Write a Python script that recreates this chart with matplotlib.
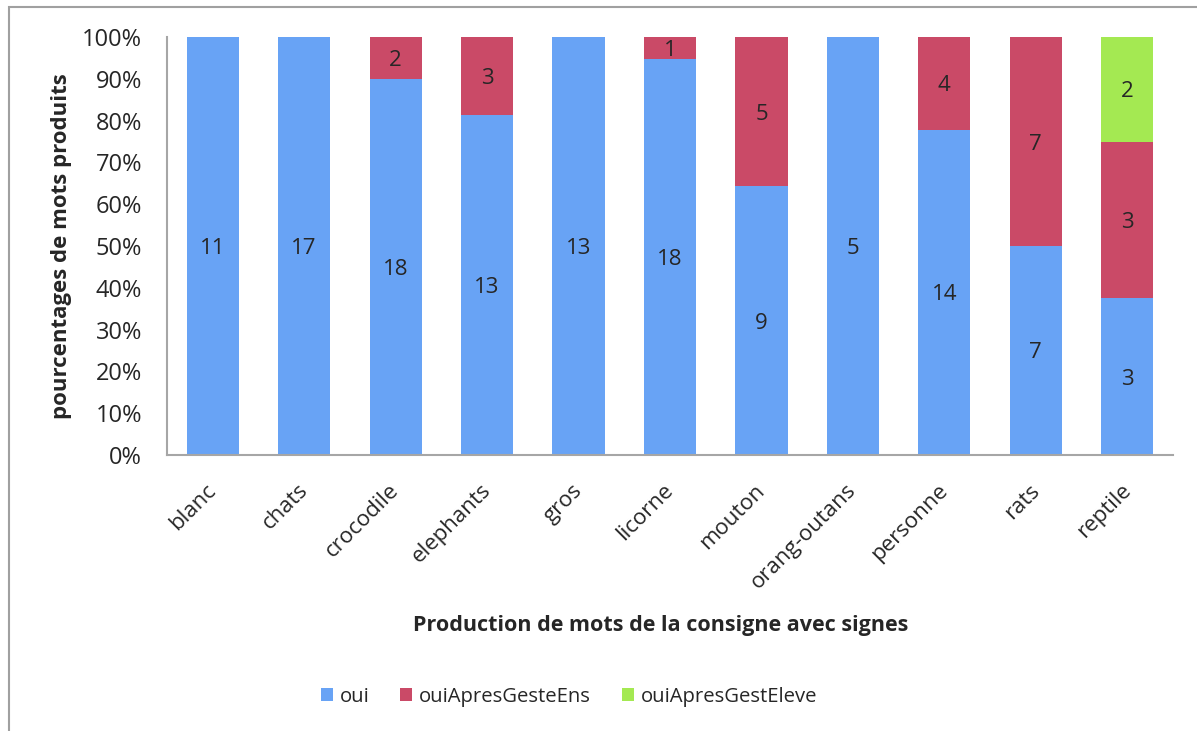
import matplotlib
matplotlib.use("Agg")
import matplotlib.pyplot as plt
import matplotlib.transforms as mtrans
import numpy as np
from matplotlib.patches import Rectangle

categories = ["blanc", "chats", "crocodile", "elephants", "gros", "licorne",
              "mouton", "orang-outans", "personne", "rats", "reptile"]
oui = [11, 17, 18, 13, 13, 18, 9, 5, 14, 7, 3]
oui_ens = [0, 0, 2, 3, 0, 1, 5, 0, 4, 7, 3]
oui_eleve = [0, 0, 0, 0, 0, 0, 0, 0, 0, 0, 2]
series_names = ["oui", "ouiApresGesteEns", "ouiApresGestEleve"]
colors = ["#68A3F5", "#CA4A67", "#A4E952"]
yticklabels = ["0%", "10%", "20%", "30%", "40%", "50%", "60%", "70%", "80%", "90%", "100%"]

plt.rcParams['font.family'] = ['Open Sans', 'DejaVu Sans']
TXT = "#262626"
FS = 16

fig = plt.figure(figsize=(11.97, 7.31), dpi=100)
ax = fig.add_axes([167/1197, 1-455/731, (1173-167)/1197, (455-37)/731])

series = [np.array(oui, float), np.array(oui_ens, float), np.array(oui_eleve, float)]
total = sum(series)
x = np.arange(len(categories))
bottom = np.zeros(len(categories))
for vals, name, col in zip(series, series_names, colors):
    pct = vals / total * 100
    ax.bar(x, pct, 0.57, bottom=bottom, color=col, label=name, edgecolor='none')
    for xi, v, p, b in zip(x, vals, pct, bottom):
        if v > 0:
            ax.text(xi, b + p/2, f"{int(v)}", ha='center', va='center_baseline',
                    fontsize=FS, color=TXT)
    bottom = bottom + pct

ax.set_xlim(-0.5, len(categories) - 0.5)
ax.set_ylim(0, 100)
ax.set_yticks(np.arange(0, 101, 10))
ax.set_yticklabels(yticklabels, fontsize=17, color=TXT)
ax.set_xticks(x)
ax.set_xticklabels(categories, rotation=45, ha='right', rotation_mode='anchor',
                   fontsize=FS, color=TXT)
ax.tick_params(axis='both', length=0)
ax.tick_params(axis='y', pad=18)
ax.tick_params(axis='x', pad=18)
offset = mtrans.ScaledTranslation(-7/100, 0, fig.dpi_scale_trans)
for lbl in ax.get_xticklabels():
    lbl.set_transform(lbl.get_transform() + offset)
for s in ['top', 'right']:
    ax.spines[s].set_visible(False)
for s in ['left', 'bottom']:
    ax.spines[s].set_color('#A6A6A6')
    ax.spines[s].set_linewidth(1.5)

fig.text(62/1197, 1-246/731, "pourcentages de mots produits", rotation=90,
         ha='center', va='center', fontsize=FS, fontweight='bold', color=TXT)
fig.text(661/1197, 1-625/731, "Production de mots de la consigne avec signes",
         ha='center', va='center', fontsize=15.5, fontweight='bold', color=TXT)

leg = fig.legend(loc='center', bbox_to_anchor=(569/1197, 1-697/731), ncol=3,
                 frameon=False, fontsize=14.6, handlelength=0.6, handleheight=0.6,
                 handletextpad=0.35, columnspacing=1.5)
for t in leg.get_texts():
    t.set_color(TXT)

frame = Rectangle((8.5/1197, -0.1), 1.2, 1 - 6.5/731 + 0.1, transform=fig.transFigure,
                  fill=False, edgecolor='#A0A0A0', linewidth=1.5, zorder=-1)
fig.patches.append(frame)

fig.savefig("out.png", dpi=100)
